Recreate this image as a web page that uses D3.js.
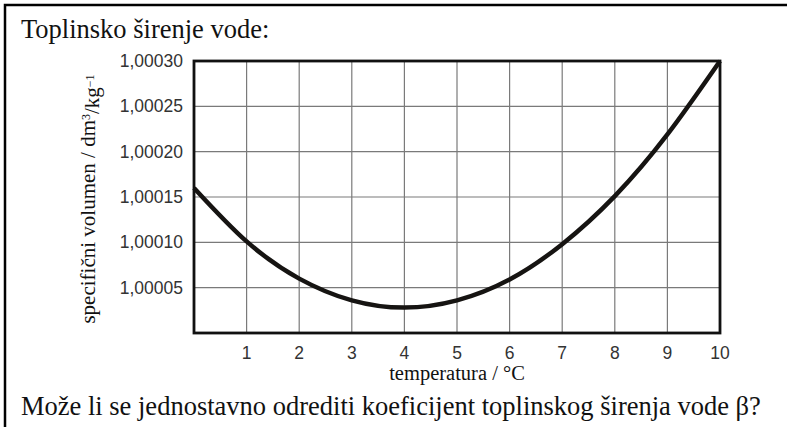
<!DOCTYPE html>
<html>
<head>
<meta charset="utf-8">
<script src="https://cdn.jsdelivr.net/npm/d3@7"></script>
<style>
  body { margin: 0; background: #fff; }
  .tick-label { font-family: "Liberation Sans", Arial, sans-serif; font-size: 17.5px; fill: #333; }
  .serif { font-family: "Liberation Serif", "Times New Roman", serif; fill: #111; }
</style>
</head>
<body>
<div id="wrapper"></div>
<script>
// temperature / °C and specific volume / dm3/kg
const temperatures = [0, 1, 2, 3, 4, 5, 6, 7, 8, 9, 10]
const volumes = [1.000160, 1.000101, 1.000060, 1.000036, 1.000028, 1.000036, 1.000059, 1.000098, 1.000151, 1.000219, 1.000300]
const xTicks = [1, 2, 3, 4, 5, 6, 7, 8, 9, 10]
const yTicks = [1.00005, 1.00010, 1.00015, 1.00020, 1.00025, 1.00030]
const title = "Toplinsko širenje vode:"
const question = "Može li se jednostavno odrediti koeficijent toplinskog širenja vode β?"

function drawChart() {
  const dataset = temperatures.map((t, i) => ({ t, v: volumes[i] }))

  const dimensions = {
    width: 787,
    height: 427,
    margin: { top: 61, right: 67, bottom: 94, left: 194 },
  }
  dimensions.boundedWidth = dimensions.width - dimensions.margin.left - dimensions.margin.right
  dimensions.boundedHeight = dimensions.height - dimensions.margin.top - dimensions.margin.bottom

  const svg = d3.select("#wrapper")
    .append("svg")
      .attr("width", dimensions.width)
      .attr("height", dimensions.height)

  // outer frame (right and bottom edges fall outside the picture)
  svg.append("path")
    .attr("d", "M5,430 V5 H787")
    .attr("fill", "none")
    .attr("stroke", "#000")
    .attr("stroke-width", 2.5)

  svg.append("text")
    .attr("class", "serif")
    .attr("x", 21)
    .attr("y", 38)
    .style("font-size", "26.5px")
    .text(title)

  svg.append("text")
    .attr("class", "serif")
    .attr("x", 21)
    .attr("y", 415)
    .style("font-size", "26.5px")
    .text(question)

  const bounds = svg.append("g")
    .attr("transform", `translate(${dimensions.margin.left},${dimensions.margin.top})`)

  const xScale = d3.scaleLinear()
    .domain([0, 10])
    .range([0, dimensions.boundedWidth])

  const yScale = d3.scaleLinear()
    .domain([1.0, 1.0003])
    .range([dimensions.boundedHeight, 0])

  // grid
  const grid = bounds.append("g")
  grid.selectAll(".vgrid")
    .data(xTicks)
    .join("line")
      .attr("x1", d => xScale(d))
      .attr("x2", d => xScale(d))
      .attr("y1", 0)
      .attr("y2", dimensions.boundedHeight)
      .attr("stroke", "#7a7a7a")
      .attr("stroke-width", 1.2)
  grid.selectAll(".hgrid")
    .data(yTicks)
    .join("line")
      .attr("x1", 0)
      .attr("x2", dimensions.boundedWidth)
      .attr("y1", d => yScale(d))
      .attr("y2", d => yScale(d))
      .attr("stroke", "#7a7a7a")
      .attr("stroke-width", 1.2)

  // curve
  const line = d3.line()
    .x(d => xScale(d.t))
    .y(d => yScale(d.v))
    .curve(d3.curveNatural)

  bounds.append("path")
    .datum(dataset)
    .attr("d", line)
    .attr("fill", "none")
    .attr("stroke", "#161412")
    .attr("stroke-width", 4.5)

  // plot frame
  bounds.append("rect")
    .attr("width", dimensions.boundedWidth)
    .attr("height", dimensions.boundedHeight)
    .attr("fill", "none")
    .attr("stroke", "#111")
    .attr("stroke-width", 2.8)

  // axes labels
  const fmt = d => d3.format(".5f")(d).replace(".", ",")

  bounds.selectAll(".ylabel")
    .data(yTicks)
    .join("text")
      .attr("class", "tick-label")
      .attr("x", -11)
      .attr("y", d => yScale(d))
      .attr("dy", "0.35em")
      .attr("text-anchor", "end")
      .text(fmt)

  bounds.selectAll(".xlabel")
    .data(xTicks)
    .join("text")
      .attr("class", "tick-label")
      .attr("x", d => xScale(d))
      .attr("y", dimensions.boundedHeight + 26)
      .attr("text-anchor", "middle")
      .text(d => d)

  bounds.append("text")
    .attr("class", "serif")
    .attr("x", dimensions.boundedWidth / 2)
    .attr("y", dimensions.boundedHeight + 47)
    .attr("text-anchor", "middle")
    .style("font-size", "20.5px")
    .text("temperatura / °C")

  const yLabel = bounds.append("text")
    .attr("class", "serif")
    .attr("transform", `translate(-99,${dimensions.boundedHeight / 2 + 2}) rotate(-90)`)
    .attr("text-anchor", "middle")
    .style("font-size", "21px")
  yLabel.append("tspan").text("specifični volumen / dm")
  yLabel.append("tspan").attr("dy", "-0.45em").style("font-size", "12px").text("3")
  yLabel.append("tspan").attr("dy", "0.45em").text("/kg")
  yLabel.append("tspan").attr("dy", "-0.45em").style("font-size", "12px").text("−1")
}
drawChart()
</script>
</body>
</html>
